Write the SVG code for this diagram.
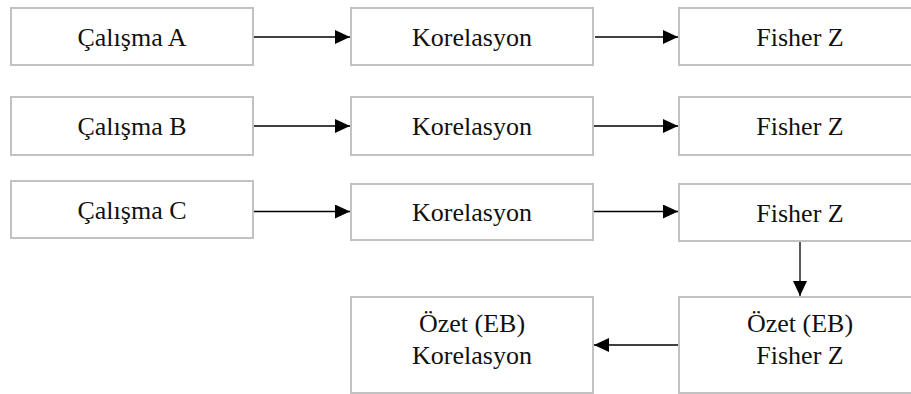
<svg xmlns="http://www.w3.org/2000/svg" width="911" height="394" viewBox="0 0 911 394">
  <style>
    .box { fill: #ffffff; stroke: #c2c2c2; stroke-width: 2; }
    .lbl { font-family: "Liberation Serif", "Times New Roman", serif; font-size: 26px; fill: #111111; text-anchor: middle; }
    .edge { stroke: #000000; stroke-width: 1.3; fill: none; }
  </style>
  <defs>
    <marker id="arrow" markerUnits="userSpaceOnUse" markerWidth="16" markerHeight="15" refX="15" refY="7" orient="auto" viewBox="0 0 16 15">
      <path d="M0,0 L15,7 L0,14 Z" fill="#000000"/>
    </marker>
  </defs>
  <rect width="911" height="394" fill="#ffffff"/>

  <g id="calisma-a">
    <rect class="box" x="11" y="8" width="242" height="57"/>
    <text class="lbl" x="132" y="46">Çalışma A</text>
  </g>
  <g id="korelasyon-a">
    <rect class="box" x="351" y="8" width="242" height="57"/>
    <text class="lbl" x="472" y="46">Korelasyon</text>
  </g>
  <g id="fisher-a">
    <rect class="box" x="679" y="8" width="242" height="57"/>
    <text class="lbl" x="800" y="46">Fisher Z</text>
  </g>

  <g id="calisma-b">
    <rect class="box" x="11" y="97" width="242" height="58"/>
    <text class="lbl" x="132" y="135">Çalışma B</text>
  </g>
  <g id="korelasyon-b">
    <rect class="box" x="351" y="97" width="242" height="58"/>
    <text class="lbl" x="472" y="135">Korelasyon</text>
  </g>
  <g id="fisher-b">
    <rect class="box" x="679" y="97" width="242" height="58"/>
    <text class="lbl" x="800" y="135">Fisher Z</text>
  </g>

  <g id="calisma-c">
    <rect class="box" x="11" y="181" width="242" height="57"/>
    <text class="lbl" x="132" y="219">Çalışma C</text>
  </g>
  <g id="korelasyon-c">
    <rect class="box" x="351" y="184" width="242" height="56"/>
    <text class="lbl" x="472" y="221">Korelasyon</text>
  </g>
  <g id="fisher-c">
    <rect class="box" x="679" y="184" width="242" height="57"/>
    <text class="lbl" x="800" y="222">Fisher Z</text>
  </g>

  <g id="ozet-korelasyon">
    <rect class="box" x="351" y="297" width="242" height="96"/>
    <text class="lbl" x="472" y="332">Özet (EB)</text>
    <text class="lbl" x="472" y="364">Korelasyon</text>
  </g>
  <g id="ozet-fisher">
    <rect class="box" x="679" y="297" width="242" height="96"/>
    <text class="lbl" x="800" y="332">Özet (EB)</text>
    <text class="lbl" x="800" y="364">Fisher Z</text>
  </g>

  <g id="connectors">
    <line class="edge" x1="254" y1="37" x2="350" y2="37" marker-end="url(#arrow)"/>
    <line class="edge" x1="595" y1="37" x2="678" y2="37" marker-end="url(#arrow)"/>
    <line class="edge" x1="254" y1="126" x2="350" y2="126" marker-end="url(#arrow)"/>
    <line class="edge" x1="594" y1="126" x2="678" y2="126" marker-end="url(#arrow)"/>
    <line class="edge" x1="254" y1="211.5" x2="350" y2="211.5" marker-end="url(#arrow)"/>
    <line class="edge" x1="594" y1="211.5" x2="678" y2="211.5" marker-end="url(#arrow)"/>
    <line class="edge" x1="800" y1="242" x2="800" y2="296" marker-end="url(#arrow)"/>
    <line class="edge" x1="678" y1="345" x2="594" y2="345" marker-end="url(#arrow)"/>
  </g>
</svg>
